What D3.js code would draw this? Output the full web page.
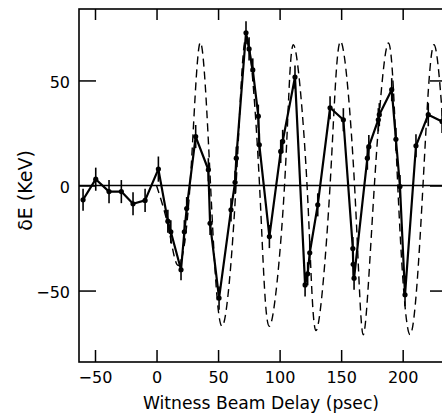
<!DOCTYPE html>
<html>
<head>
<meta charset="utf-8">
<script src="https://d3js.org/d3.v7.min.js"></script>
<style>
  body { margin: 0; background: #fff; }
  svg { display: block; font-family: "DejaVu Sans", sans-serif; }
</style>
</head>
<body>
<script>
    // measured energy change of the witness beam (points with error bars)
    var delay = [-59.7, -49.4, -38.6, -28.6, -19.1, -9.3, 1.5, 9.2, 11.6, 19.9,
                 22.6, 24.5, 31.8, 42.1, 43.5, 50.8, 60.5, 63.8, 64.8, 72.7,
                 75.2, 78.2, 82.7, 83.5, 91.7, 100.9, 102.5, 112.5, 120.7, 122.8,
                 124.5, 131, 141, 151.8, 159.5, 159.8, 160.5, 171.3, 172.5, 180.2,
                 181, 191.1, 194.5, 197.8, 201.9, 210.8, 220.8, 232];
    var dE    = [-6.8, 3.0, -2.9, -2.9, -8.7, -7.1, 7.8, -17, -22, -40.1,
                 -22, -11, 23.3, 7.5, -18, -53.6, -11.6, 1.5, 13, 72.7,
                 65, 55, 33, 19.4, -24.3, 16.2, 21, 51.6, -47.3, -42,
                 -32, -9.2, 37, 31.3, -30, -37.5, -44.1, 13, 18.5, 31.3,
                 33.7, 45.6, 22, -0.5, -52, 18.9, 33.7, 30.5];
    var err   = [5.2, 5.5, 5.5, 5.5, 5.5, 5.5, 6, 5.5, 5.5, 5,
                 5.5, 5.5, 5.5, 5.5, 5.5, 5.5, 5.5, 5.5, 5.5, 5.5,
                 5.5, 5.5, 5.5, 5.5, 5.5, 5.5, 5.5, 5.5, 5.5, 5.5,
                 5.5, 5.5, 5.5, 5.5, 5.5, 5.5, 5.5, 5.5, 5.5, 5.5,
                 5.5, 5.5, 5.5, 5.5, 5.5, 5.5, 5.5, 5.5];

    // dashed curve (calculation), read at zero crossings and extrema
    var simDelay = [0, 10, 18, 27.2, 35.4, 43.9, 53.2, 64.6, 73, 83.7,
                    91.7, 104, 111.2, 122.3, 129.6, 141, 149.5, 160.9, 168, 177,
                    188.4, 196, 206, 216.5, 225.5, 236];
    var simDE    = [0, -21, -38, 0, 68, 0, -67, 0, 71, 0,
                    -67, 0, 67, 0, -69, 0, 68.6, 0, -71, 0,
                    67.8, 0, -71, 0, 67, 0];

    var xTicks = [-50, 0, 50, 100, 150, 200];
    var yTicks = [-50, 0, 50];

    var w = 442;
    var h = 416;
    // plot box (note: "top" is a reserved window property, so use a prefix)
    var pL = 79, pR = 446, pT = 9, pB = 362;

    var svg = d3.select("body")
                .append("svg")
                .attr("width", w)
                .attr("height", h);

    var x = d3.scaleLinear().domain([-63, 235.2]).range([pL, pR]);
    var y = d3.scaleLinear().domain([-84, 84]).range([pB, pT]);

    svg.append("clipPath")
       .attr("id", "plotclip")
       .append("rect")
       .attr("x", pL).attr("y", pT)
       .attr("width", pR - pL).attr("height", pB - pT);

    // axes with inward ticks
    svg.append("g")
       .attr("transform", "translate(0," + pB + ")")
       .call(d3.axisBottom(x).tickValues(xTicks).tickSize(-12).tickPadding(9.6));
    svg.append("g")
       .attr("transform", "translate(0," + pT + ")")
       .call(d3.axisTop(x).tickValues(xTicks).tickSize(-11).tickFormat(""));
    var yl = svg.append("g")
       .attr("transform", "translate(" + pL + ",0)")
       .call(d3.axisLeft(y).tickValues(yTicks).tickSize(-17).tickPadding(9));
    svg.append("g")
       .attr("transform", "translate(" + pR + ",0)")
       .call(d3.axisRight(y).tickValues(yTicks).tickSize(-16).tickFormat(""));

    svg.selectAll(".domain").remove();
    svg.selectAll(".tick line").attr("stroke", "#000").attr("stroke-width", 1.5);
    svg.selectAll(".tick text")
       .attr("fill", "#000")
       .style("font-size", "16px")
       .style("font-family", "'DejaVu Sans', sans-serif");
    yl.selectAll(".tick text").attr("dy", "0.46em");

    // frame
    svg.append("rect")
       .attr("x", pL).attr("y", pT)
       .attr("width", pR - pL).attr("height", pB - pT)
       .attr("fill", "none")
       .attr("stroke", "#000")
       .attr("stroke-width", 1.6);

    // zero line
    svg.append("line")
       .attr("x1", pL).attr("x2", pR)
       .attr("y1", y(0)).attr("y2", y(0))
       .attr("stroke", "#000")
       .attr("stroke-width", 1.3);

    var plot = svg.append("g").attr("clip-path", "url(#plotclip)");

    // dashed curve
    var sim = simDelay.map(function(d, i) { return [d, simDE[i]]; });
    var simLine = d3.line()
                    .x(d => x(d[0]))
                    .y(d => y(d[1]))
                    .curve(d3.curveNatural);
    plot.append("path")
        .attr("d", simLine(sim))
        .attr("fill", "none")
        .attr("stroke", "#000")
        .attr("stroke-width", 1.4)
        .attr("stroke-dasharray", "8,5");

    // measured points
    var meas = delay.map(function(d, i) { return { t: d, v: dE[i], e: err[i] }; });
    var measLine = d3.line().x(d => x(d.t)).y(d => y(d.v));

    plot.selectAll("line.err")
        .data(meas)
        .enter()
        .append("line")
        .attr("class", "err")
        .attr("x1", d => x(d.t)).attr("x2", d => x(d.t))
        .attr("y1", d => y(d.v - d.e)).attr("y2", d => y(d.v + d.e))
        .attr("stroke", "#000")
        .attr("stroke-width", 1.6);

    plot.append("path")
        .attr("d", measLine(meas))
        .attr("fill", "none")
        .attr("stroke", "#000")
        .attr("stroke-width", 2.2)
        .attr("stroke-linejoin", "round");

    plot.selectAll("circle")
        .data(meas)
        .enter()
        .append("circle")
        .attr("cx", d => x(d.t))
        .attr("cy", d => y(d.v))
        .attr("r", 2.6)
        .attr("fill", "#000");

    // axis titles
    svg.append("text")
       .attr("x", 261)
       .attr("y", 409)
       .attr("text-anchor", "middle")
       .style("font-size", "17.2px")
       .text("Witness Beam Delay (psec)");

    svg.append("text")
       .attr("transform", "translate(32,190.5) rotate(-90)")
       .attr("text-anchor", "middle")
       .style("font-size", "19px")
       .text("δE (KeV)");
</script>
</body>
</html>
